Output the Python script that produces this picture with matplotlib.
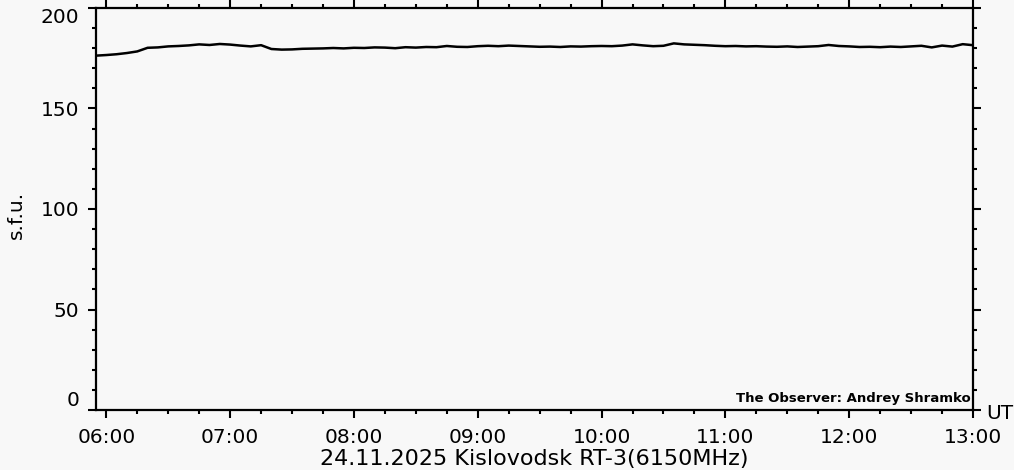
import numpy as np
import pandas as pd
import matplotlib
matplotlib.use('Agg')
import matplotlib.pyplot as plt
import matplotlib.dates as mdates
from matplotlib.ticker import MultipleLocator

# flux readings every 5 minutes, 05:55 .. 13:00 UT
start_time = '2025-11-24 05:55'
flux = [176.3, 176.6, 177.0, 177.6, 178.4, 180.2, 180.4, 180.9, 181.1, 181.4,
        181.9, 181.6, 182.1, 181.8, 181.3, 180.9, 181.5, 179.6, 179.3, 179.4,
        179.7, 179.8, 179.9, 180.1, 179.9, 180.2, 180.1, 180.4, 180.3, 180.0,
        180.5, 180.3, 180.6, 180.5, 181.1, 180.7, 180.6, 181.0, 181.2, 181.0,
        181.3, 181.1, 180.9, 180.7, 180.8, 180.6, 180.9, 180.8, 181.0, 181.1,
        181.0, 181.3, 181.9, 181.4, 181.0, 181.2, 182.4, 181.9, 181.7, 181.5,
        181.2, 181.0, 181.1, 180.9, 181.0, 180.8, 180.7, 180.9, 180.6, 180.8,
        181.0, 181.6, 181.1, 180.9, 180.6, 180.7, 180.5, 180.8, 180.6, 180.9,
        181.2, 180.4, 181.3, 180.8, 182.0, 181.5]
times = pd.date_range(start_time, periods=len(flux), freq='5min')

x_ticks = pd.date_range('2025-11-24 06:00', '2025-11-24 13:00', freq='1h')
y_ticks = [0, 50, 100, 150, 200]

bg = '#f8f8f8'
plt.rcParams['font.family'] = 'DejaVu Sans'

fig = plt.figure(figsize=(10.14, 4.70), dpi=100, facecolor=bg)
ax = fig.add_axes([96 / 1014, 60 / 470, 877 / 1014, 402 / 470])
ax.set_facecolor(bg)

ax.plot(times, flux, color='black', lw=1.8)

ax.set_xlim(pd.Timestamp('2025-11-24 05:55'), pd.Timestamp('2025-11-24 13:00'))
ax.set_ylim(0, 200)
ax.set_xticks(x_ticks)
ax.xaxis.set_major_formatter(mdates.DateFormatter('%H:%M'))
ax.xaxis.set_minor_locator(mdates.MinuteLocator(byminute=[15, 30, 45]))
ax.set_yticks(y_ticks)
ax.yaxis.set_minor_locator(MultipleLocator(10))

for s in ax.spines.values():
    s.set_linewidth(1.6)
ax.tick_params(which='both', direction='out', top=True, right=True,
               labeltop=False, labelright=False, width=1.5, colors='black')
ax.tick_params(which='major', length=6, labelsize=14.5)
ax.tick_params(axis='x', which='major', pad=7)
ax.tick_params(axis='y', which='major', pad=6)
ax.tick_params(which='minor', length=3.2)

ylabels = ax.get_yticklabels()
ylabels[0].set_va('bottom')
ylabels[-1].set_va('top')

ax.text(0.997, 0.012, 'The Observer: Andrey Shramko', transform=ax.transAxes,
        ha='right', va='bottom', fontsize=9.5, fontweight='bold')

fig.text(0.016, 0.543, 's.f.u.', rotation=90, ha='center', va='center', fontsize=14.5)
fig.text(0.986, 0.121, 'UT', ha='center', va='center', fontsize=14.5)
fig.text(0.527, 0.003, '24.11.2025 Kislovodsk RT-3(6150MHz)', ha='center',
         va='bottom', fontsize=16)

fig.savefig('out.png', dpi=100, facecolor=bg)
